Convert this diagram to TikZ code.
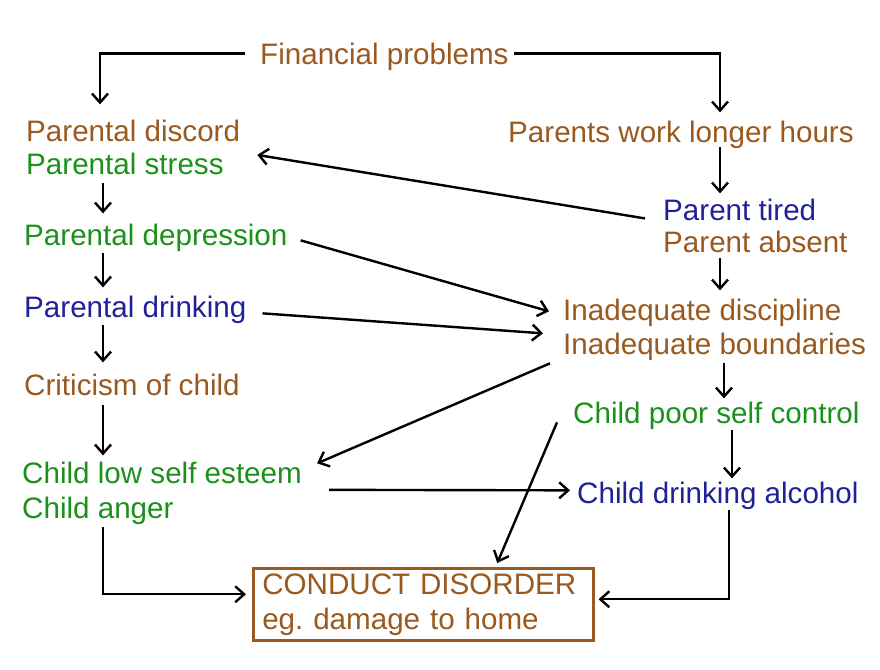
\documentclass[tikz,border=0pt]{standalone}
\usepackage{fontspec}
\setmainfont{Liberation Sans}
\usepackage{xcolor}
\usetikzlibrary{arrows.meta}

\definecolor{cbrown}{RGB}{153,89,31}
\definecolor{cgreen}{RGB}{26,145,26}
\definecolor{cblue}{RGB}{32,32,153}

\begin{document}
\begin{tikzpicture}[x=1pt, y=-1pt,
    factor/.style={anchor=base west, inner sep=0pt, align=left, font=\fontsize{29.6}{33}\selectfont},
    outcome/.style={rectangle, draw=cbrown, line width=2.5pt, anchor=north west, text=cbrown, text width=322pt, align=left, inner xsep=9pt, inner ysep=4pt, minimum height=72pt, font=\fontsize{29.6}{35}\selectfont},
    arrow/.style={-{Straight Barb[length=9pt,width=16pt]}, line width=2.4pt}]

    \useasboundingbox (0,0) rectangle (880,669);

    % Causes (multi-line nodes sit on their last baseline)
    \node[factor, text=cbrown] (fin) at (260,64) {Financial problems};
    \node[factor] (disc) at (26,174) {\textcolor{cbrown}{Parental discord}\\\textcolor{cgreen}{Parental stress}};
    \node[factor, text=cgreen] (dep) at (24,245) {Parental depression};
    \node[factor, text=cblue] (drink) at (24,317) {Parental drinking};
    \node[factor, text=cbrown] (crit) at (24,395) {Criticism of child};
    \node[factor, text=cgreen, font=\fontsize{29.6}{35}\selectfont] (esteem) at (22,518) {Child low self esteem\\Child anger};
    \node[factor, text=cbrown] (work) at (508,142) {Parents work longer hours};
    \node[factor, font=\fontsize{29.6}{32}\selectfont] (tired) at (663,252) {\textcolor{cblue}{Parent tired}\\\textcolor{cbrown}{Parent absent}};
    \node[factor, text=cbrown, font=\fontsize{29.6}{34}\selectfont] (inad) at (563,354) {Inadequate discipline\\Inadequate boundaries};
    \node[factor, text=cgreen] (poor) at (573,423) {Child poor self control};
    \node[factor, text=cblue] (alc) at (577,503) {Child drinking alcohol};

    % Outcome
    \node[outcome] (box) at (252,567) {CONDUCT DISORDER\\eg.\ damage to home};

    % Left chain
    \draw[arrow] ([xshift=-15pt,yshift=3pt]fin.west) -| ([xshift=74pt,yshift=15pt]disc.north west);
    \draw[arrow] ([xshift=77pt,yshift=-9pt]disc.south west) -- ([xshift=79pt,yshift=10pt]dep.north west);
    \draw[arrow] ([xshift=79pt,yshift=-2pt]dep.south west) -- ([xshift=79pt,yshift=8pt]drink.north west);
    \draw[arrow] ([xshift=79pt,yshift=-2pt]drink.south west) -- ([xshift=79pt,yshift=11pt]crit.north west);
    \draw[arrow] ([xshift=79pt,yshift=-10pt]crit.south west) -- ([xshift=81pt,yshift=6pt]esteem.north west);
    \draw[arrow] ([xshift=81pt,yshift=-3pt]esteem.south west) |- ([xshift=-6pt,yshift=10pt]box.west);

    % Right chain
    \draw[arrow] ([xshift=5pt,yshift=3pt]fin.east) -| ([xshift=212pt,yshift=8pt]work.north west);
    \draw[arrow] ([xshift=212pt,yshift=1pt]work.south west) -- ([xshift=57pt,yshift=5pt]tired.north west);
    \draw[arrow] ([xshift=57pt,yshift=-6pt]tired.south west) -- ([xshift=157pt,yshift=8pt]inad.north west);
    \draw[arrow] ([xshift=161pt,yshift=-3pt]inad.south west) -- ([xshift=151pt,yshift=3pt]poor.north west);
    \draw[arrow] ([xshift=159pt,yshift=-1pt]poor.south west) -- ([xshift=155pt,yshift=3pt]alc.north west);
    \draw[arrow] ([xshift=152pt,yshift=-1pt]alc.south west) |- ([xshift=4pt,yshift=5pt]box.east);

    % Cross links
    \draw[arrow] ([xshift=-18pt,yshift=7pt]tired.west) -- ([xshift=17pt,yshift=-8pt]disc.east);
    \draw[arrow] ([xshift=13pt,yshift=-3pt]dep.east) -- ([xshift=-14pt,yshift=18pt]inad.west);
    \draw[arrow] ([xshift=16pt,yshift=-4pt]drink.east) -- ([xshift=-20pt,yshift=-4pt]inad.west);
    \draw[arrow] ([xshift=-13pt,yshift=-3pt]inad.south west) -- ([xshift=15pt,yshift=-2pt]esteem.north east);
    \draw[arrow] ([xshift=27pt,yshift=3pt]esteem.east) -- ([xshift=-7pt,yshift=5pt]alc.west);
    \draw[arrow] ([xshift=-16pt,yshift=-7pt]poor.west) -- ([xshift=74pt,yshift=4pt]box.north);

\end{tikzpicture}
\end{document}
